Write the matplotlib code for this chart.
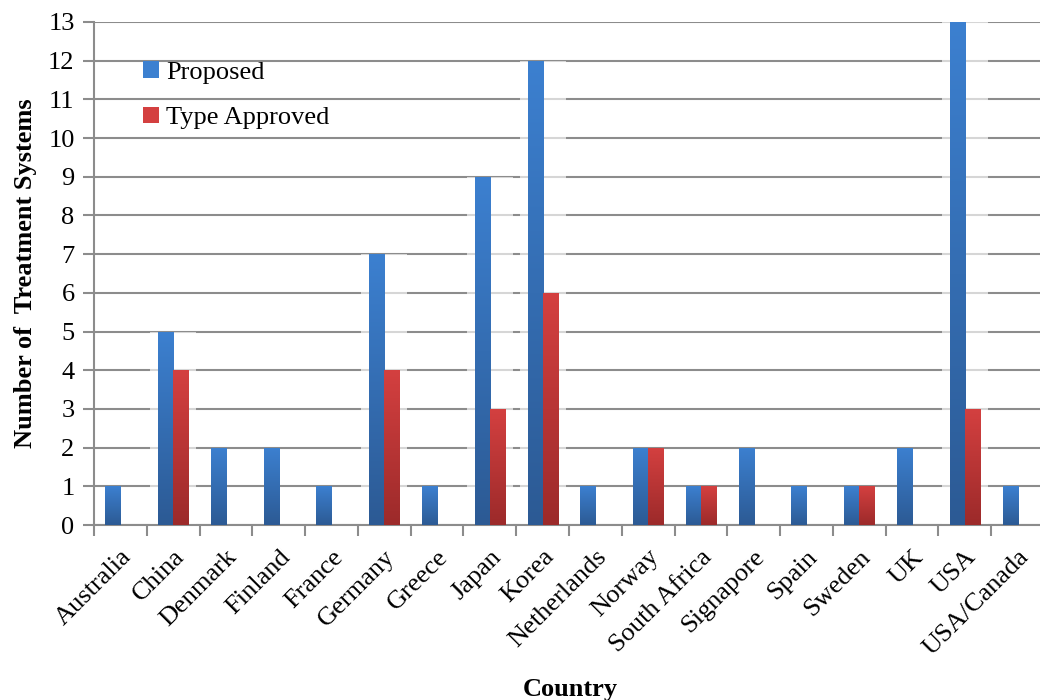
import matplotlib

matplotlib.use("Agg", force=True)

import matplotlib.pyplot as plt
import numpy as np
from matplotlib.colors import LinearSegmentedColormap
from matplotlib.patches import Rectangle

countries = ["Australia", "China", "Denmark", "Finland", "France", "Germany",
             "Greece", "Japan", "Korea", "Netherlands", "Norway", "South Africa",
             "Signapore", "Spain", "Sweden", "UK", "USA", "USA/Canada"]
proposed = [1, 5, 2, 2, 1, 7, 1, 9, 12, 1, 2, 1, 2, 1, 1, 2, 13, 1]
type_approved = [0, 4, 0, 0, 0, 4, 0, 3, 6, 0, 2, 1, 0, 0, 1, 0, 3, 0]

plt.rcParams["font.family"] = ["Liberation Serif", "DejaVu Serif"]

BLUE = ("#2c5a94", "#3c80d0")
RED = ("#9c2a2a", "#d44040")
GRID = "#8c8c8c"
FS = 19


def gradient_bars(ax, x, heights, width, colors, label):
    bars = ax.bar(x, heights, width, color=colors[1], label=label, zorder=3)
    cmap = LinearSegmentedColormap.from_list("g", list(colors))
    grad = np.linspace(0, 1, 256).reshape(-1, 1)
    for b in bars:
        h = b.get_height()
        if h <= 0:
            continue
        x0 = b.get_x()
        im = ax.imshow(grad, cmap=cmap, aspect="auto", origin="lower",
                       extent=(x0, x0 + b.get_width(), 0, h), zorder=3.5)
        im.set_clip_path(b)
    return bars


fig = plt.figure(figsize=(10.4, 7), dpi=100)
ax = fig.add_axes([94 / 1040, 175 / 700, 950 / 1040, 503 / 700])

x = np.arange(len(countries))
w = 0.285

# soft white glow behind the tall groups
for xi, p in zip(x, proposed):
    if p >= 5:
        ax.add_patch(Rectangle((xi - w - 0.15, -0.05), 2 * w + 0.3, p + 0.05,
                               facecolor="white", edgecolor="none", alpha=0.65,
                               zorder=2))

gradient_bars(ax, x - w / 2, proposed, w, BLUE, "Proposed")
gradient_bars(ax, x + w / 2, type_approved, w, RED, "Type Approved")

ax.set_xlim(-0.5, len(countries) - 0.5)
ax.set_ylim(0, 13)
ax.set_yticks(range(0, 14))
ax.yaxis.grid(True, color=GRID, linewidth=1.5, zorder=1)
ax.set_axisbelow(True)

ax.set_xticks(x)
ax.set_xticklabels(countries, rotation=45, ha="right", va="top",
                   rotation_mode="anchor", fontsize=FS)
ax.set_xticks(np.arange(-0.5, len(countries)), minor=True)
ax.tick_params(axis="x", which="major", length=0, pad=15)
ax.tick_params(axis="x", which="minor", length=8, width=1.5, color=GRID)
ax.tick_params(axis="y", length=8, width=1.5, color=GRID, labelsize=FS, pad=6)

for s in ("top", "right"):
    ax.spines[s].set_visible(False)
for s in ("left", "bottom"):
    ax.spines[s].set_color(GRID)
    ax.spines[s].set_linewidth(1.5)

ax.set_ylabel("Number of  Treatment Systems", fontsize=FS, fontweight="bold",
              labelpad=8)
ax.set_xlabel("Country", fontsize=FS, fontweight="bold")
ax.xaxis.set_label_coords(0.501, -0.305)

ax.legend(loc="upper left", bbox_to_anchor=(0.027, 0.970), frameon=False,
          fontsize=FS, handlelength=0.6, handleheight=0.6, handletextpad=0.25,
          labelspacing=0.88)

fig.savefig("out.png", dpi=100)
